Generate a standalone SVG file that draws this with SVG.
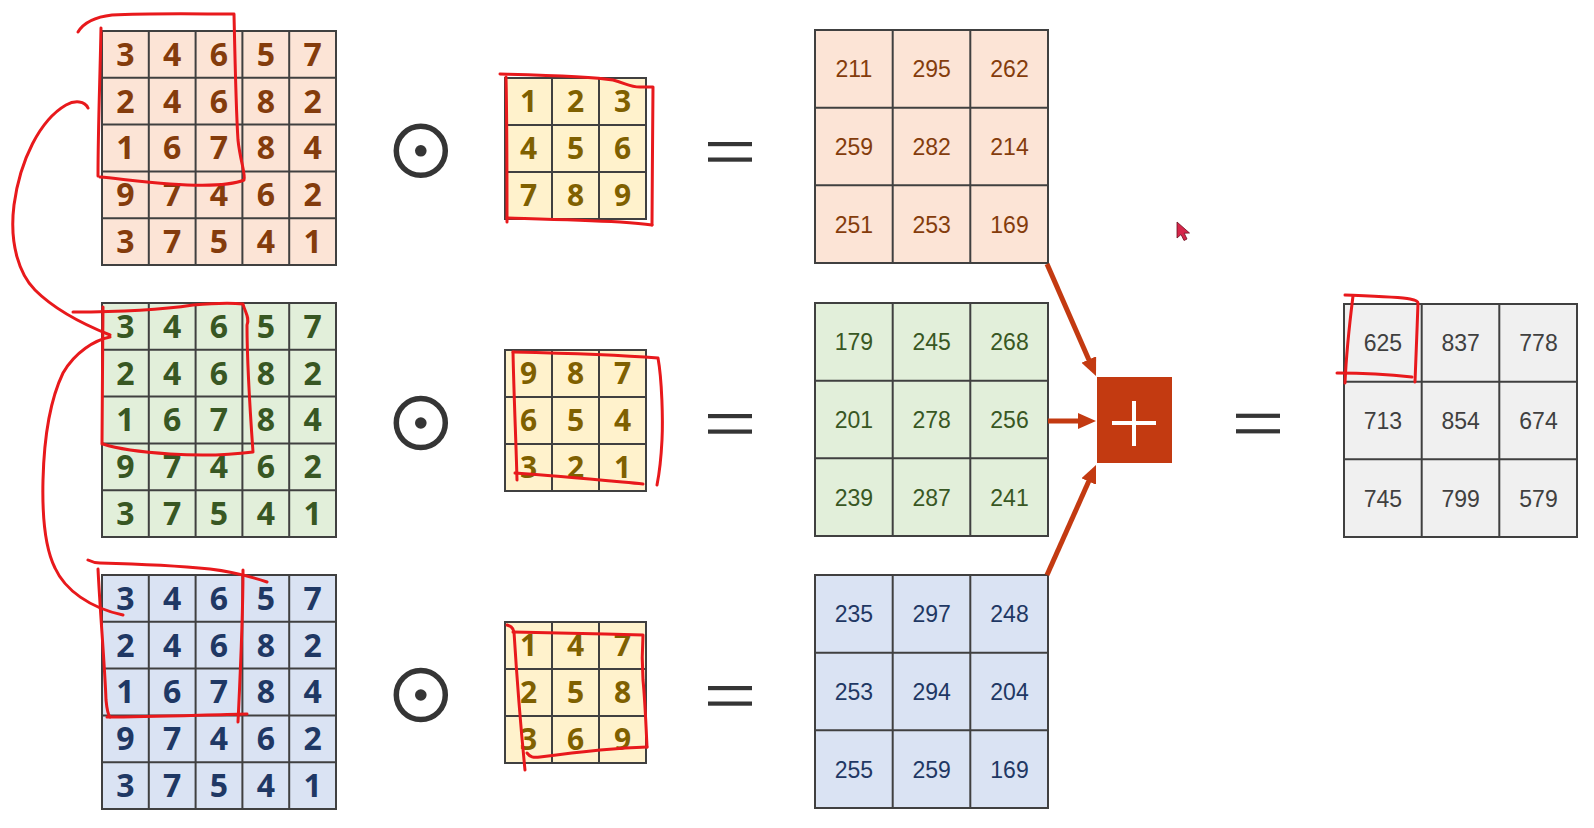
<svg xmlns="http://www.w3.org/2000/svg" xmlns:xlink="http://www.w3.org/1999/xlink" width="1594" height="828" viewBox="0 0 1594 828">
<style>
.gl{fill:none;stroke:#404040;stroke-width:2}
.d5{font-family:"Open Sans","Noto Sans",sans-serif;font-weight:700;font-size:32px;text-anchor:middle}
.dk{font-family:"Open Sans","Noto Sans",sans-serif;font-weight:700;font-size:30px;text-anchor:middle;fill:#7F6000}
.d3{font-family:"Liberation Sans",Arial,sans-serif;font-size:23px;text-anchor:middle}
.br{fill:#843C0C}.gr{fill:#385723}.bl{fill:#1F3864}.gy{fill:#404040}
.op{fill:none;stroke:#353535;stroke-width:5.5}
.eq{fill:#353535}
.arr{fill:none;stroke:#C33A11;stroke-width:5}
.red{fill:none;stroke:#E8191C;stroke-width:3;stroke-linecap:round;stroke-linejoin:round}
</style>
<defs>
<g id="g5"><rect x="0" y="0" width="234" height="234" class="gl"/><path class="gl" d="M46.8,0V234M93.6,0V234M140.4,0V234M187.2,0V234M0,46.8H234M0,93.6H234M0,140.4H234M0,187.2H234"/></g>
<g id="gk"><rect x="0" y="0" width="141" height="141" class="gl"/><path class="gl" d="M47,0V141M94,0V141M0,47H141M0,94H141"/></g>
<g id="g3"><rect x="0" y="0" width="233" height="233" class="gl"/><path class="gl" d="M77.7,0V233M155.3,0V233M0,77.7H233M0,155.3H233"/></g>
<g id="odot"><circle cx="0" cy="0" r="24.5" class="op"/><circle cx="0" cy="0" r="5.8" fill="#353535"/></g>
<g id="eqs"><rect x="0" y="-2" width="44" height="4.2" class="eq"/><rect x="0" y="13.5" width="44" height="4.2" class="eq"/></g>
<marker id="ah" viewBox="0 0 18 16" refX="4" refY="8" markerWidth="18" markerHeight="16" markerUnits="userSpaceOnUse" orient="auto"><path d="M0,0L18,8L0,16z" fill="#C33A11"/></marker>
</defs>
<rect width="1594" height="828" fill="#ffffff"/>

<g id="input-r">
<rect x="102" y="31" width="234" height="234" fill="#FCE4D6"/><use href="#g5" x="102" y="31"/>
<g class="d5 br">
<text x="125.4" y="65.8">3</text><text x="172.2" y="65.8">4</text><text x="219" y="65.8">6</text><text x="265.8" y="65.8">5</text><text x="312.6" y="65.8">7</text>
<text x="125.4" y="112.6">2</text><text x="172.2" y="112.6">4</text><text x="219" y="112.6">6</text><text x="265.8" y="112.6">8</text><text x="312.6" y="112.6">2</text>
<text x="125.4" y="159.4">1</text><text x="172.2" y="159.4">6</text><text x="219" y="159.4">7</text><text x="265.8" y="159.4">8</text><text x="312.6" y="159.4">4</text>
<text x="125.4" y="206.2">9</text><text x="172.2" y="206.2">7</text><text x="219" y="206.2">4</text><text x="265.8" y="206.2">6</text><text x="312.6" y="206.2">2</text>
<text x="125.4" y="253">3</text><text x="172.2" y="253">7</text><text x="219" y="253">5</text><text x="265.8" y="253">4</text><text x="312.6" y="253">1</text>
</g></g>

<g id="input-g">
<rect x="102" y="303" width="234" height="234" fill="#E2EFDA"/><use href="#g5" x="102" y="303"/>
<g class="d5 gr">
<text x="125.4" y="337.8">3</text><text x="172.2" y="337.8">4</text><text x="219" y="337.8">6</text><text x="265.8" y="337.8">5</text><text x="312.6" y="337.8">7</text>
<text x="125.4" y="384.6">2</text><text x="172.2" y="384.6">4</text><text x="219" y="384.6">6</text><text x="265.8" y="384.6">8</text><text x="312.6" y="384.6">2</text>
<text x="125.4" y="431.4">1</text><text x="172.2" y="431.4">6</text><text x="219" y="431.4">7</text><text x="265.8" y="431.4">8</text><text x="312.6" y="431.4">4</text>
<text x="125.4" y="478.2">9</text><text x="172.2" y="478.2">7</text><text x="219" y="478.2">4</text><text x="265.8" y="478.2">6</text><text x="312.6" y="478.2">2</text>
<text x="125.4" y="525">3</text><text x="172.2" y="525">7</text><text x="219" y="525">5</text><text x="265.8" y="525">4</text><text x="312.6" y="525">1</text>
</g></g>

<g id="input-b">
<rect x="102" y="575" width="234" height="234" fill="#DAE3F3"/><use href="#g5" x="102" y="575"/>
<g class="d5 bl">
<text x="125.4" y="609.8">3</text><text x="172.2" y="609.8">4</text><text x="219" y="609.8">6</text><text x="265.8" y="609.8">5</text><text x="312.6" y="609.8">7</text>
<text x="125.4" y="656.6">2</text><text x="172.2" y="656.6">4</text><text x="219" y="656.6">6</text><text x="265.8" y="656.6">8</text><text x="312.6" y="656.6">2</text>
<text x="125.4" y="703.4">1</text><text x="172.2" y="703.4">6</text><text x="219" y="703.4">7</text><text x="265.8" y="703.4">8</text><text x="312.6" y="703.4">4</text>
<text x="125.4" y="750.2">9</text><text x="172.2" y="750.2">7</text><text x="219" y="750.2">4</text><text x="265.8" y="750.2">6</text><text x="312.6" y="750.2">2</text>
<text x="125.4" y="797">3</text><text x="172.2" y="797">7</text><text x="219" y="797">5</text><text x="265.8" y="797">4</text><text x="312.6" y="797">1</text>
</g></g>

<g id="op-1"><use href="#odot" x="420.8" y="150.8"/></g>
<g id="op-2"><use href="#odot" x="420.8" y="423"/></g>
<g id="op-3"><use href="#odot" x="420.8" y="695"/></g>

<g id="kernel-1">
<rect x="505" y="78" width="141" height="141" fill="#FFF2CC"/><use href="#gk" x="505" y="78"/>
<g class="dk">
<text x="528.5" y="112.2">1</text><text x="575.5" y="112.2">2</text><text x="622.5" y="112.2">3</text>
<text x="528.5" y="159.2">4</text><text x="575.5" y="159.2">5</text><text x="622.5" y="159.2">6</text>
<text x="528.5" y="206.2">7</text><text x="575.5" y="206.2">8</text><text x="622.5" y="206.2">9</text>
</g></g>

<g id="kernel-2">
<rect x="505" y="350" width="141" height="141" fill="#FFF2CC"/><use href="#gk" x="505" y="350"/>
<g class="dk">
<text x="528.5" y="384.2">9</text><text x="575.5" y="384.2">8</text><text x="622.5" y="384.2">7</text>
<text x="528.5" y="431.2">6</text><text x="575.5" y="431.2">5</text><text x="622.5" y="431.2">4</text>
<text x="528.5" y="478.2">3</text><text x="575.5" y="478.2">2</text><text x="622.5" y="478.2">1</text>
</g></g>

<g id="kernel-3">
<rect x="505" y="622" width="141" height="141" fill="#FFF2CC"/><use href="#gk" x="505" y="622"/>
<g class="dk">
<text x="528.5" y="656.2">1</text><text x="575.5" y="656.2">4</text><text x="622.5" y="656.2">7</text>
<text x="528.5" y="703.2">2</text><text x="575.5" y="703.2">5</text><text x="622.5" y="703.2">8</text>
<text x="528.5" y="750.2">3</text><text x="575.5" y="750.2">6</text><text x="622.5" y="750.2">9</text>
</g></g>

<g id="eq-1"><use href="#eqs" x="708" y="144"/></g>
<g id="eq-2"><use href="#eqs" x="708" y="416"/></g>
<g id="eq-3"><use href="#eqs" x="708" y="688"/></g>

<g id="out-r">
<rect x="815" y="30" width="233" height="233" fill="#FCE4D6"/><use href="#g3" x="815" y="30"/>
<g class="d3 br">
<text x="853.9" y="77.2">211</text><text x="931.7" y="77.2">295</text><text x="1009.5" y="77.2">262</text>
<text x="853.9" y="155">259</text><text x="931.7" y="155">282</text><text x="1009.5" y="155">214</text>
<text x="853.9" y="232.8">251</text><text x="931.7" y="232.8">253</text><text x="1009.5" y="232.8">169</text>
</g></g>

<g id="out-g">
<rect x="815" y="303" width="233" height="233" fill="#E2EFDA"/><use href="#g3" x="815" y="303"/>
<g class="d3 gr">
<text x="853.9" y="350.2">179</text><text x="931.7" y="350.2">245</text><text x="1009.5" y="350.2">268</text>
<text x="853.9" y="428">201</text><text x="931.7" y="428">278</text><text x="1009.5" y="428">256</text>
<text x="853.9" y="505.8">239</text><text x="931.7" y="505.8">287</text><text x="1009.5" y="505.8">241</text>
</g></g>

<g id="out-b">
<rect x="815" y="575" width="233" height="233" fill="#DAE3F3"/><use href="#g3" x="815" y="575"/>
<g class="d3 bl">
<text x="853.9" y="622.2">235</text><text x="931.7" y="622.2">297</text><text x="1009.5" y="622.2">248</text>
<text x="853.9" y="700">253</text><text x="931.7" y="700">294</text><text x="1009.5" y="700">204</text>
<text x="853.9" y="777.8">255</text><text x="931.7" y="777.8">259</text><text x="1009.5" y="777.8">169</text>
</g></g>

<g id="plus">
<rect x="1097" y="377" width="75" height="86" fill="#C33A11"/>
<path d="M1112,423H1156M1134,401V446" fill="none" stroke="#ffffff" stroke-width="4"/>
</g>

<g id="eq-4"><use href="#eqs" x="1236" y="415.7"/></g>

<g id="result">
<rect x="1344" y="304" width="233" height="233" fill="#F0F0F0"/><use href="#g3" x="1344" y="304"/>
<g class="d3 gy">
<text x="1382.9" y="351.2">625</text><text x="1460.7" y="351.2">837</text><text x="1538.5" y="351.2">778</text>
<text x="1382.9" y="429">713</text><text x="1460.7" y="429">854</text><text x="1538.5" y="429">674</text>
<text x="1382.9" y="506.8">745</text><text x="1460.7" y="506.8">799</text><text x="1538.5" y="506.8">579</text>
</g></g>

<g id="connectors">
<path class="arr" d="M1047,264L1090.4,363.2" marker-end="url(#ah)"/>
<path class="arr" d="M1048,421L1082,421" marker-end="url(#ah)"/>
<path class="arr" d="M1047,575L1090.3,477.8" marker-end="url(#ah)"/>
</g>

<g id="annotations">
<path class="red" d="M78,32C84,22 95,17 112,15C150,13 200,14 234,14C235,60 236,110 238,140C240,160 246,175 244,180C230,186 200,186 170,184C140,182 115,178 100,177"/>
<path class="red" d="M101,28C100,80 98,130 98,176"/>
<path class="red" d="M88,108C85,101 75,100 66,105C40,120 20,160 14,205C9,245 20,275 35,290C55,310 85,325 110,335"/>
<path class="red" d="M110,337C95,340 75,352 63,373C50,400 44,440 43,480C42,520 46,550 55,568C65,590 90,608 123,615"/>
<path class="red" d="M73,312C120,312 160,310 193,305C215,303 235,303 243,304C245,312 250,318 247,325C247,360 250,410 253,452C230,455 200,456 170,454C140,452 115,448 103,444"/>
<path class="red" d="M103,307C103,350 102,400 102,444"/>
<path class="red" d="M88,560C92,562 95,563 100,563C140,564 180,566 210,569C235,572 255,578 267,582"/>
<path class="red" d="M98,569C100,610 105,670 106,700C107,710 108,715 110,717"/>
<path class="red" d="M107,717C150,717 200,715 247,714"/>
<path class="red" d="M243,570C243,620 240,680 238,722"/>
<path class="red" d="M500,74C540,75 590,76 613,80C625,83 630,87 640,87L653,87C653,130 652,180 652,225"/>
<path class="red" d="M507,218C540,219 580,220 620,222C635,223 645,224 652,225"/>
<path class="red" d="M506,77C507,120 507,180 507,222"/>
<path class="red" d="M513,352C560,353 620,355 658,358C662,380 663,420 662,440C661,460 659,475 657,485"/>
<path class="red" d="M513,352C514,400 516,440 517,480"/>
<path class="red" d="M515,473C560,476 600,480 643,484"/>
<path class="red" d="M507,625C510,626 513,627 514,632C517,680 520,720 525,770"/>
<path class="red" d="M513,632C560,633 600,634 643,635C642,650 642,665 643,680C645,700 646,725 647,747"/>
<path class="red" d="M527,753C530,757 533,758 540,757C570,753 610,748 647,747"/>
<path class="red" d="M1345,295C1370,296 1400,297 1410,299C1415,300 1418,301 1418,303C1417,330 1416,360 1415,382"/>
<path class="red" d="M1353,296C1350,320 1346,360 1345,383"/>
<path class="red" d="M1337,373C1360,373 1385,374 1412,377"/>
</g>

<g id="cursor">
<path d="M1177,222L1177,238L1181,234.5L1184,240.5L1187,239L1184.2,233.2L1189.5,233Z" fill="#D6264A" stroke="#6B1020" stroke-width="0.8"/>
</g>
</svg>
